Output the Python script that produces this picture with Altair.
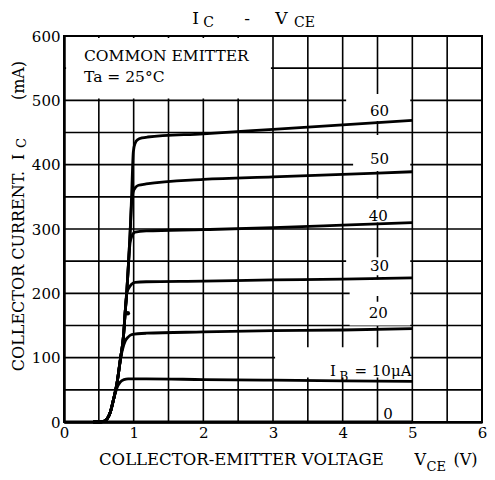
import altair as alt
import pandas as pd

FONT = "DejaVu Serif"

# ---------------- data ----------------
IB_VALUES = [0, 10, 20, 30, 40, 50, 60]

VCE_IB0 = [0.0, 5.0]
IC_IB0 = [0, 0]

VCE_IB10 = [0.42, 0.5, 0.57, 0.62, 0.667, 0.713, 0.76, 0.807, 0.86, 0.92, 1.18, 2.0, 3.0, 4.0, 5.0]
IC_IB10 = [0, 0, 1, 5, 16, 36, 53, 62, 66, 67, 67, 66, 65, 64, 63]

VCE_IB20 = [0.42, 0.5, 0.57, 0.62, 0.667, 0.713, 0.76, 0.81, 0.84, 0.88, 0.92, 0.97, 1.18, 2.0, 3.0, 4.0, 5.0]
IC_IB20 = [0, 0, 1, 5, 16, 36, 60, 98, 113, 126, 132, 136, 138, 140, 142, 143, 145]

VCE_IB30 = [0.42, 0.5, 0.57, 0.62, 0.667, 0.713, 0.76, 0.81, 0.855, 0.877, 0.9, 0.93, 0.97, 1.02, 1.18, 2.0, 3.0, 4.0, 5.0]
IC_IB30 = [0, 0, 1, 5, 16, 36, 60, 98, 135, 169, 200, 208, 214, 217, 218, 219, 221, 222, 224]

VCE_IB40 = [0.42, 0.5, 0.57, 0.62, 0.667, 0.713, 0.76, 0.81, 0.855, 0.877, 0.9, 0.925, 0.948, 0.975, 1.02, 1.18, 2.0, 3.0, 4.0, 5.0]
IC_IB40 = [0, 0, 1, 5, 16, 36, 60, 98, 135, 169, 200, 245, 278, 289, 295, 297, 299, 302, 306, 310]

VCE_IB50 = [0.42, 0.5, 0.57, 0.62, 0.667, 0.713, 0.76, 0.81, 0.855, 0.877, 0.9, 0.925, 0.948, 0.97, 0.99, 1.03, 1.07, 1.18, 2.0, 3.0, 4.0, 5.0]
IC_IB50 = [0, 0, 1, 5, 16, 36, 60, 98, 135, 169, 200, 245, 292, 340, 357, 365, 368, 370, 377, 381, 385, 389]

VCE_IB60 = [0.42, 0.5, 0.57, 0.62, 0.667, 0.713, 0.76, 0.81, 0.855, 0.877, 0.9, 0.925, 0.948, 0.97, 0.995, 1.02, 1.06, 1.12, 1.2, 2.0, 3.0, 4.0, 5.0]
IC_IB60 = [0, 0, 1, 5, 16, 36, 60, 98, 135, 169, 200, 245, 292, 350, 420, 433, 439, 441.5, 443, 448, 455, 462, 469]

VCE_ALL = [VCE_IB0, VCE_IB10, VCE_IB20, VCE_IB30, VCE_IB40, VCE_IB50, VCE_IB60]
IC_ALL = [IC_IB0, IC_IB10, IC_IB20, IC_IB30, IC_IB40, IC_IB50, IC_IB60]

# curve labels (data units)
LABEL_TEXT = ["60", "50", "40", "30", "20", "0"]
LABEL_VCE = [4.53, 4.53, 4.51, 4.53, 4.51, 4.65]
LABEL_IC = [483, 409, 320, 243, 169, 13]

# scan speck
DOT_VCE = [0.915]
DOT_IC = [169]

# grid
GRID_V = [0.5, 1.0, 1.5, 2.0, 2.5, 3.0, 3.5, 4.0, 4.5, 5.0, 5.5]
GRID_I = [50, 100, 150, 200, 250, 300, 350, 400, 450, 500, 550]

# white label boxes that interrupt the grid
BOX_X1 = [0.03, 4.05, 4.15, 4.05, 4.05, 4.10, 4.10, 3.03]
BOX_X2 = [2.97, 4.97, 4.97, 4.97, 4.97, 4.97, 4.97, 4.97]
BOX_Y1 = [503, 468, 390, 310, 228, 196, 150, 69]
BOX_Y2 = [597, 510, 446, 347, 256, 222, 187, 116]

X_TICKS = [0, 1, 2, 3, 4, 5, 6]
Y_TICKS = [0, 100, 200, 300, 400, 500, 600]

# ---------------- chart ----------------
xs = alt.Scale(domain=[0, 6], nice=False, zero=False)
ys = alt.Scale(domain=[0, 600], nice=False)

x_axis = alt.Axis(values=X_TICKS, format="d", title=None, grid=False, ticks=False,
                  domainColor="black", domainWidth=2.5, labelFont=FONT, labelFontSize=15,
                  labelColor="black", labelPadding=3, labelFlush=False, zindex=1)
y_axis = alt.Axis(values=Y_TICKS, format="d", title=None, grid=False, ticks=False,
                  domainColor="black", domainWidth=2.5, labelFont=FONT, labelFontSize=15,
                  labelColor="black", labelPadding=4, labelFlush=False, zindex=1)


def X(field):
    return alt.X(field, scale=xs, axis=x_axis)


def Y(field):
    return alt.Y(field, scale=ys, axis=y_axis)


vgrid = alt.Chart(pd.DataFrame({"v": GRID_V})).mark_rule(color="black", strokeWidth=1.6).encode(
    x=X("v:Q"))
hgrid = alt.Chart(pd.DataFrame({"i": GRID_I})).mark_rule(color="black", strokeWidth=1.6).encode(
    y=Y("i:Q"))

boxes = alt.Chart(pd.DataFrame({"x1": BOX_X1, "x2": BOX_X2, "y1": BOX_Y1, "y2": BOX_Y2})).mark_rect(
    color="white").encode(
    x=X("x1:Q"), x2="x2:Q",
    y=Y("y1:Q"), y2="y2:Q")

rows = []
for ib, vs, cs in zip(IB_VALUES, VCE_ALL, IC_ALL):
    for k, (v, c) in enumerate(zip(vs, cs)):
        rows.append({"ib": ib, "vce": v, "ic": c, "k": k})
curves = alt.Chart(pd.DataFrame(rows)).mark_line(
    color="black", strokeWidth=2.8, interpolate="monotone").encode(
    x=X("vce:Q"), y=Y("ic:Q"),
    detail="ib:N", order="k:Q")

dot = alt.Chart(pd.DataFrame({"v": DOT_VCE, "i": DOT_IC})).mark_circle(
    color="black", size=22, opacity=1).encode(
    x=X("v:Q"), y=Y("i:Q"))

labels = alt.Chart(pd.DataFrame({"t": LABEL_TEXT, "v": LABEL_VCE, "i": LABEL_IC})).mark_text(
    font=FONT, fontSize=15, color="black", align="center", baseline="middle").encode(
    x=X("v:Q"), y=Y("i:Q"), text="t:N")


def txt(s, x, y, size=15, align="left", baseline="alphabetic", angle=0):
    kw = dict(font=FONT, fontSize=size, color="black", align=align, baseline=baseline)
    if angle:
        kw["angle"] = angle
    return alt.Chart(pd.DataFrame({"t": [s]})).mark_text(**kw).encode(
        text="t:N", x=alt.value(x), y=alt.value(y))


annotations = [
    # title  I_C - V_CE
    txt("I", 131.5, -12, 17, "center"),
    txt("C", 144.5, -9, 14, "center"),
    txt("-", 183, -12, 17, "center"),
    txt("V", 217.5, -12, 17, "center"),
    txt("CE", 240.5, -9, 14, "center"),
    # header box
    txt("COMMON EMITTER", 20, 24.7, 15.5),
    txt("Ta = 25°C", 20, 45.5, 15.5),
    # I_B = 10 uA label
    txt("I", 269, 339.6, 15, "center"),
    txt("B", 280, 344.5, 12, "center"),
    txt("= 10μA", 347.5, 339.6, 15, "right"),
    # x axis title
    txt("COLLECTOR-EMITTER VOLTAGE", 35, 429, 16.5),
    txt("V", 350.5, 429, 16),
    txt("CE", 362.5, 434.5, 13),
    txt("(V)", 389.5, 429, 16),
    # y axis title (rotated)
    txt("COLLECTOR CURRENT.", -45, 235, 16, "center", "middle", 270),
    txt("I", -45, 121, 16, "center", "middle", 270),
    txt("C", -42, 107, 13, "center", "middle", 270),
    txt("(mA)", -45, 44.5, 16, "center", "middle", 270),
]

chart = alt.layer(vgrid, hgrid, boxes, curves, dot, labels, *annotations).properties(
    width=418, height=386,
    padding={"left": 56, "top": 28, "right": 5, "bottom": 50},
    autosize=alt.AutoSizeParams(type="none"),
    background="white",
).configure_view(stroke="black", strokeWidth=2)

chart.save("out.html", embed_options={"renderer": "svg", "actions": False})
